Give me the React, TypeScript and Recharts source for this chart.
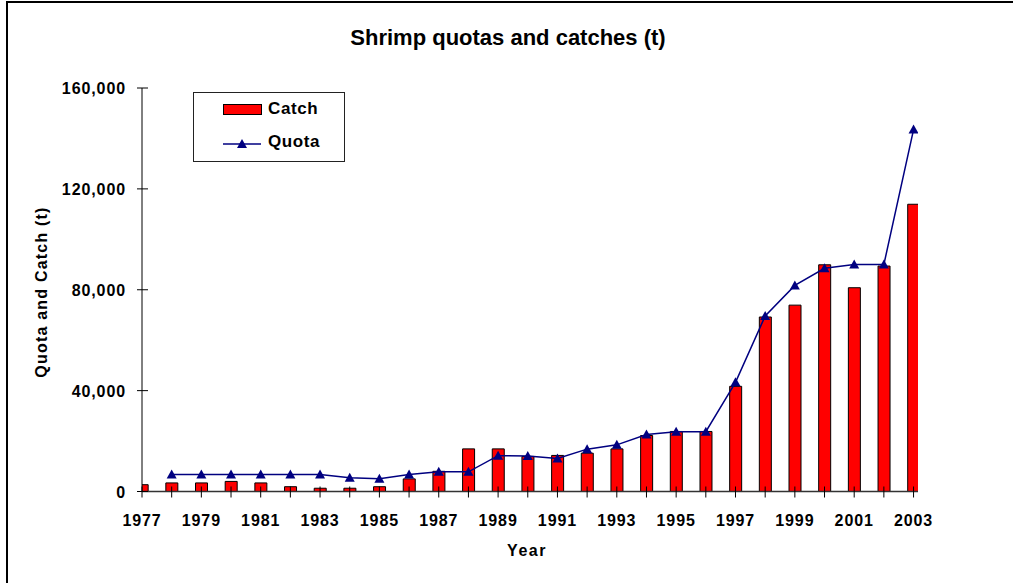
import React from 'react'
import { ComposedChart, Bar, Line, XAxis, YAxis } from 'recharts'

const years = [
  1977, 1978, 1979, 1980, 1981, 1982, 1983, 1984, 1985, 1986, 1987, 1988, 1989, 1990,
  1991, 1992, 1993, 1994, 1995, 1996, 1997, 1998, 1999, 2000, 2001, 2002, 2003,
]
const catches = [
  2700, 3400, 3400, 4000, 3400, 1900, 1300, 1300, 1900, 5000, 8000, 16900, 16900, 13900,
  14300, 15200, 16900, 22200, 23800, 23800, 41700, 69200, 73900, 89900, 80800, 89400, 113900,
]
const quotas = [
  null, 6700, 6700, 6700, 6700, 6700, 6700, 5500, 5100, 6700, 7800, 7800, 14200, 14100,
  13100, 16800, 18500, 22600, 23700, 23700, 43300, 69600, 81700, 88500, 90000, 90000, 143500,
]
const yTicks = [0, 40000, 80000, 120000, 160000]

const data = years.map((year, i) => ({ year, catch: catches[i], quota: quotas[i] }))

const FONT = '"Liberation Sans", Arial, sans-serif'
const NAVY = '#000080'

// eslint-disable-next-line @typescript-eslint/no-explicit-any
const YearTick = ({ x, y, payload }: any) => {
  const odd = payload.value % 2 === 1
  return (
    <g>
      <line x1={x} x2={x} y1={y - 5} y2={y + 6} stroke="#000" strokeWidth={1} />
      {odd && (
        <text
          x={x}
          y={y + 34}
          textAnchor="middle"
          fontFamily={FONT}
          fontWeight="bold"
          fontSize={16}
          letterSpacing={0.9}
          fill="#000"
        >
          {payload.value}
        </text>
      )}
    </g>
  )
}

// eslint-disable-next-line @typescript-eslint/no-explicit-any
const ValueTick = ({ x, y, payload }: any) => (
  <g>
    <line x1={x - 5} x2={x + 6} y1={y} y2={y} stroke="#000" strokeWidth={1} />
    <text
      x={x - 16}
      y={y + 6}
      textAnchor="end"
      fontFamily={FONT}
      fontWeight="bold"
      fontSize={16}
      letterSpacing={0.9}
      fill="#000"
    >
      {payload.value.toLocaleString('en-US')}
    </text>
  </g>
)

// eslint-disable-next-line @typescript-eslint/no-explicit-any
const Triangle = ({ cx, cy }: any) => {
  if (cx == null || cy == null) return null
  return <polygon points={`${cx},${cy - 5} ${cx - 5},${cy + 4} ${cx + 5},${cy + 4}`} fill={NAVY} />
}

const LegendBox = () => (
  <div
    style={{
      position: 'absolute',
      left: 193,
      top: 92,
      width: 150,
      height: 68,
      border: '1px solid #222',
      background: '#fff',
      fontFamily: FONT,
      fontWeight: 'bold',
      fontSize: 17,
      letterSpacing: 0.6,
    }}
  >
    <div style={{ position: 'absolute', left: 29, top: 11, width: 37, height: 9, background: '#ff0000', border: '1px solid #000' }} />
    <div style={{ position: 'absolute', left: 74, top: 6 }}>Catch</div>
    <svg style={{ position: 'absolute', left: 29, top: 44 }} width={40} height={14}>
      <line x1={0} x2={38} y1={7} y2={7} stroke={NAVY} strokeWidth={1.5} />
      <polygon points="19,2 14,11 24,11" fill={NAVY} />
    </svg>
    <div style={{ position: 'absolute', left: 74, top: 39 }}>Quota</div>
  </div>
)

export default function App() {
  return (
    <div style={{ position: 'absolute', left: 0, top: 0, width: 1013, height: 583, overflow: 'hidden', background: '#fff' }}>
      <div
        style={{
          position: 'absolute',
          left: 6,
          top: 1,
          width: 1020,
          height: 600,
          borderTop: '2px solid #000',
          borderLeft: '2px solid #000',
        }}
      />
      <div
        style={{
          position: 'absolute',
          left: 0,
          width: 1016,
          top: 25,
          textAlign: 'center',
          fontFamily: FONT,
          fontWeight: 'bold',
          fontSize: 22,
        }}
      >
        Shrimp quotas and catches (t)
      </div>
      <div style={{ position: 'absolute', left: 0, top: 0 }}>
        <ComposedChart width={1013} height={583} data={data} margin={{ top: 88, right: 95, bottom: 0, left: 0 }}>
          <XAxis
            dataKey="year"
            type="number"
            domain={[1977, 2003.15]}
            ticks={years}
            allowDataOverflow
            interval={0}
            height={91.5}
            tickSize={0}
            tickMargin={0}
            tickLine={false}
            axisLine={{ stroke: '#333', strokeWidth: 1.5 }}
            tick={<YearTick />}
          />
          <YAxis
            type="number"
            domain={[0, 160000]}
            ticks={yTicks}
            width={142}
            tickSize={0}
            tickMargin={0}
            tickLine={false}
            axisLine={{ stroke: '#000', strokeWidth: 1 }}
            tick={<ValueTick />}
          />
          <Bar dataKey="catch" fill="#ff0000" stroke="#000" strokeWidth={1} barSize={12} isAnimationActive={false} />
          <Line
            dataKey="quota"
            stroke={NAVY}
            strokeWidth={1.5}
            dot={<Triangle />}
            activeDot={false}
            connectNulls={false}
            isAnimationActive={false}
          />
        </ComposedChart>
      </div>
      <div
        style={{
          position: 'absolute',
          left: 42,
          top: 292,
          transform: 'translate(-50%, -50%) rotate(-90deg)',
          whiteSpace: 'nowrap',
          fontFamily: FONT,
          fontWeight: 'bold',
          fontSize: 16,
          letterSpacing: 1.2,
        }}
      >
        Quota and Catch (t)
      </div>
      <div
        style={{
          position: 'absolute',
          left: 527,
          top: 551,
          transform: 'translate(-50%, -50%)',
          fontFamily: FONT,
          fontWeight: 'bold',
          fontSize: 16,
          letterSpacing: 1.5,
        }}
      >
        Year
      </div>
      <LegendBox />
    </div>
  )
}
